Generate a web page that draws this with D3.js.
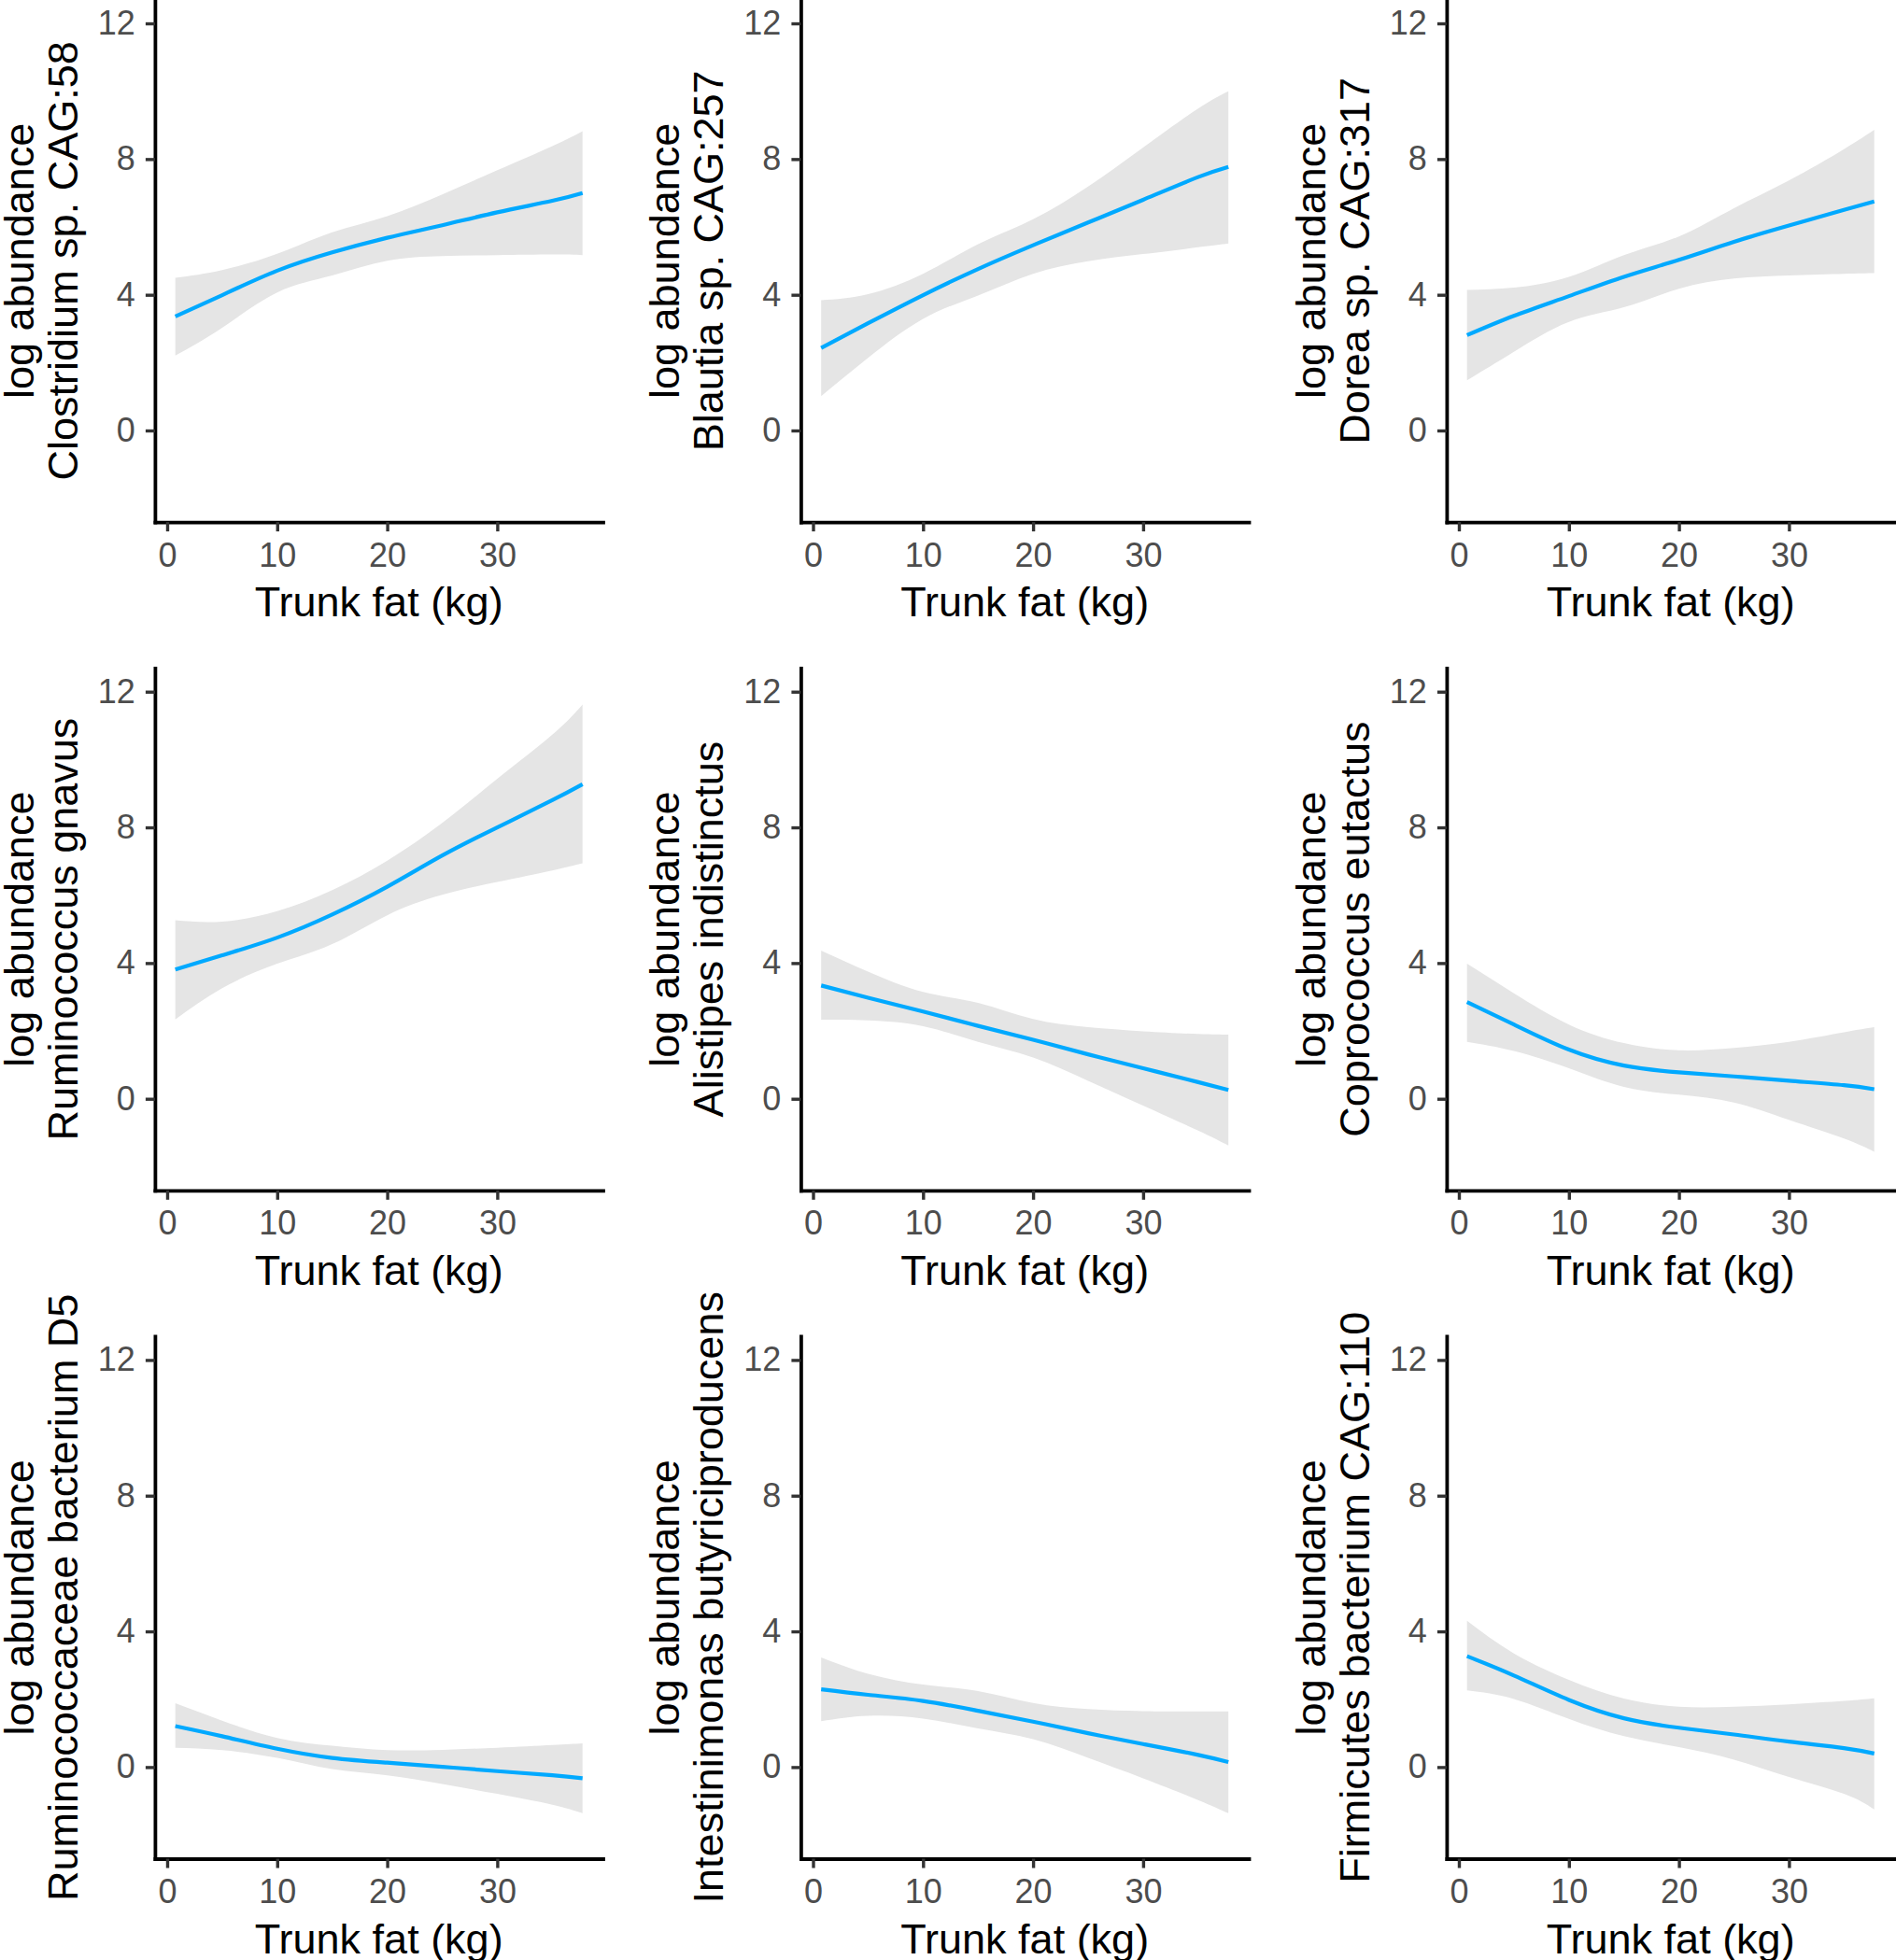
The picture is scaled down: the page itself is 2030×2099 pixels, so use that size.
<!DOCTYPE html>
<html lang="en">
<head>
<meta charset="UTF-8">
<title>Log abundance vs trunk fat</title>
<script src="https://cdn.jsdelivr.net/npm/d3@7"></script>
<style>
    body { margin: 0; background: #fff; }
    svg { display: block; font-family: "Liberation Sans", Arial, Helvetica, sans-serif; }
    .axis text { fill: #4d4d4d; font-size: 36px; font-family: "Liberation Sans", Arial, sans-serif; }
    .axis .tick line { stroke: #333333; stroke-width: 3.4; }
    .axis .domain { stroke: #000; stroke-width: 3.8; stroke-linecap: square; }
    .ttl { font-size: 45px; fill: #000; }
</style>
</head>
<body>
<svg id="fig" width="2030" height="2099"></svg>
<script>
    // species shown in each panel (row by row)
    let species = [
        "Clostridium sp. CAG:58", "Blautia sp. CAG:257", "Dorea sp. CAG:317",
        "Ruminococcus gnavus", "Alistipes indistinctus", "Coprococcus eutactus",
        "Ruminococcaceae bacterium D5", "Intestinimonas butyriciproducens", "Firmicutes bacterium CAG:110"
    ]

    let trunkFat = [0.74, 5, 10, 15, 20, 25, 30, 35, 37.75]

    // fitted log abundance
    let fit = [
        [3.36, 3.99, 4.71, 5.25, 5.68, 6.05, 6.43, 6.77, 7.00],
        [2.43, 3.16, 3.99, 4.76, 5.46, 6.13, 6.80, 7.47, 7.77],
        [2.81, 3.38, 3.96, 4.53, 5.03, 5.56, 6.04, 6.50, 6.75],
        [3.81, 4.23, 4.75, 5.43, 6.25, 7.17, 8.00, 8.80, 9.27],
        [3.34, 2.98, 2.57, 2.15, 1.74, 1.31, 0.90, 0.49, 0.26],
        [2.85, 2.19, 1.45, 0.98, 0.78, 0.66, 0.53, 0.40, 0.28],
        [1.21, 0.91, 0.54, 0.27, 0.13, 0.01, -0.12, -0.24, -0.33],
        [2.29, 2.13, 1.95, 1.66, 1.34, 1.00, 0.68, 0.36, 0.15],
        [3.27, 2.70, 1.98, 1.44, 1.16, 0.96, 0.75, 0.56, 0.40]
    ]
    // lower edge of the confidence band
    let lower = [
        [2.21, 3.03, 4.07, 4.57, 5.00, 5.14, 5.17, 5.19, 5.17],
        [1.01, 2.14, 3.29, 3.98, 4.62, 4.99, 5.20, 5.40, 5.51],
        [1.48, 2.32, 3.20, 3.63, 4.18, 4.48, 4.57, 4.62, 4.64],
        [2.34, 3.26, 3.98, 4.56, 5.41, 6.01, 6.39, 6.73, 6.94],
        [2.33, 2.31, 2.14, 1.68, 1.22, 0.53, -0.20, -0.94, -1.38],
        [1.68, 1.41, 0.90, 0.35, 0.12, -0.11, -0.62, -1.17, -1.56],
        [0.57, 0.50, 0.27, -0.06, -0.24, -0.50, -0.79, -1.11, -1.36],
        [1.35, 1.51, 1.43, 1.14, 0.82, 0.27, -0.33, -0.97, -1.36],
        [2.26, 2.01, 1.42, 0.91, 0.59, 0.22, -0.29, -0.79, -1.25]
    ]
    // upper edge of the confidence band
    let upper = [
        [4.50, 4.73, 5.21, 5.84, 6.32, 6.96, 7.67, 8.38, 8.82],
        [3.84, 4.02, 4.62, 5.49, 6.23, 7.19, 8.34, 9.49, 10.00],
        [4.14, 4.21, 4.53, 5.17, 5.72, 6.55, 7.37, 8.29, 8.86],
        [5.26, 5.22, 5.53, 6.15, 7.02, 8.13, 9.43, 10.73, 11.62],
        [4.37, 3.75, 3.15, 2.83, 2.35, 2.11, 1.99, 1.91, 1.89],
        [3.98, 3.11, 2.19, 1.64, 1.43, 1.50, 1.68, 1.96, 2.11],
        [1.88, 1.37, 0.86, 0.63, 0.50, 0.51, 0.57, 0.65, 0.70],
        [3.23, 2.75, 2.43, 2.24, 1.89, 1.71, 1.65, 1.64, 1.64],
        [4.31, 3.35, 2.57, 2.02, 1.78, 1.78, 1.85, 1.95, 2.03]
    ]

    let yTicks = [0, 4, 8, 12]
    let xTicks = [0, 10, 20, 30]
    let yLimits = [-2, 12]

    // panel geometry
    let plotW = 479.6, plotH = 559.5
    let colStep = 691.5, rowStep = 715.7
    let left0 = 165.9, top0 = -0.4

    let svg = d3.select("#fig")

    // same scales for every panel (ggplot style 5% expansion)
    let xr = d3.extent(trunkFat)
    let xPad = (xr[1] - xr[0]) * 0.05
    let x = d3.scaleLinear().domain([xr[0] - xPad, xr[1] + xPad]).range([0, plotW])
    let yPad = (yLimits[1] - yLimits[0]) * 0.05
    let y = d3.scaleLinear().domain([yLimits[0] - yPad, yLimits[1] + yPad]).range([plotH, 0])

    let band = d3.area()
        .x(d => x(d.t))
        .y0(d => y(d.lo))
        .y1(d => y(d.hi))
        .curve(d3.curveNatural)
    let line = d3.line()
        .x(d => x(d.t))
        .y(d => y(d.v))
        .curve(d3.curveNatural)

    species.forEach(function (name, i) {
        let col = i % 3, row = Math.floor(i / 3)
        let g = svg.append("g")
            .attr("transform", "translate(" + (left0 + col * colStep) + "," + (top0 + row * rowStep) + ")")

        let pts = trunkFat.map((t, k) => ({t: t, v: fit[i][k], lo: lower[i][k], hi: upper[i][k]}))

        g.append("path").datum(pts)
            .attr("d", band)
            .attr("fill", "#e5e5e5")
        g.append("path").datum(pts)
            .attr("d", line)
            .attr("fill", "none")
            .attr("stroke", "#00a9ff")
            .attr("stroke-width", 4.2)

        // axes
        g.append("g").attr("class", "axis")
            .call(d3.axisLeft(y).tickValues(yTicks).tickSize(10).tickSizeOuter(0).tickPadding(11))
        g.append("g").attr("class", "axis")
            .attr("transform", "translate(0," + plotH + ")")
            .call(d3.axisBottom(x).tickValues(xTicks).tickSize(10).tickSizeOuter(0).tickPadding(12))

        // axis titles
        g.append("text").attr("class", "ttl")
            .attr("x", plotW / 2).attr("y", plotH + 101)
            .attr("text-anchor", "middle")
            .text("Trunk fat (kg)")
        g.append("text").attr("class", "ttl")
            .attr("transform", "translate(-130," + (plotH / 2) + ") rotate(-90)")
            .attr("text-anchor", "middle")
            .text("log abundance")
        g.append("text").attr("class", "ttl")
            .attr("transform", "translate(-83," + (plotH / 2) + ") rotate(-90)")
            .attr("text-anchor", "middle")
            .text(name)
    })
</script>
</body>
</html>
